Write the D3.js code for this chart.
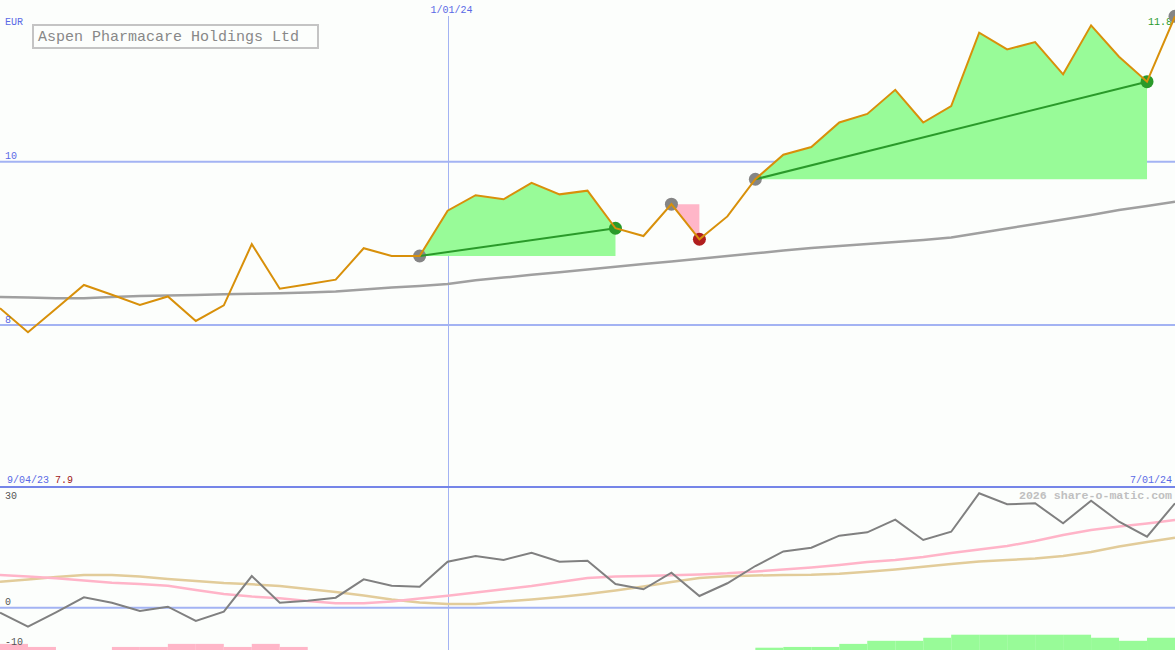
<!DOCTYPE html>
<html><head><meta charset="utf-8">
<script src="https://cdn.jsdelivr.net/npm/d3@7/dist/d3.min.js"></script>
<style>html,body{margin:0;padding:0;background:#fcfefc;overflow:hidden}svg{display:block}</style>
</head><body>
<script>
// ---- data ----
const dates = ["2023-09-11","2023-09-18","2023-09-25","2023-10-02","2023-10-09","2023-10-16","2023-10-23","2023-10-30","2023-11-06","2023-11-13","2023-11-20","2023-11-27","2023-12-04","2023-12-11","2023-12-18","2023-12-25","2024-01-01","2024-01-08","2024-01-15","2024-01-22","2024-01-29","2024-02-05","2024-02-12","2024-02-19","2024-02-26","2024-03-04","2024-03-11","2024-03-18","2024-03-25","2024-04-01","2024-04-08","2024-04-15","2024-04-22","2024-04-29","2024-05-06","2024-05-13","2024-05-20","2024-05-27","2024-06-03","2024-06-10","2024-06-17","2024-06-24","2024-07-01"];
const price = [8.205,7.911,8.20,8.49,8.37,8.245,8.35,8.05,8.24,8.99,8.445,8.50,8.555,8.94,8.845,8.845,9.40,9.59,9.54,9.74,9.60,9.645,9.185,9.09,9.48,9.05,9.33,9.785,10.085,10.18,10.48,10.585,10.88,10.48,10.68,11.58,11.375,11.465,11.07,11.67,11.285,10.98,11.78];
const longAvg = [8.343,8.337,8.327,8.327,8.343,8.356,8.362,8.368,8.376,8.383,8.389,8.398,8.411,8.435,8.460,8.478,8.503,8.548,8.581,8.614,8.646,8.680,8.713,8.746,8.779,8.812,8.845,8.878,8.911,8.943,8.968,8.992,9.017,9.041,9.072,9.127,9.182,9.237,9.292,9.347,9.409,9.458,9.510];
const momentum = [-1.26,-4.79,-1.16,2.62,1.26,-0.83,0.25,-3.35,-1.01,7.98,1.26,1.76,2.52,7.15,5.54,5.29,11.59,13.02,12.02,13.85,11.59,11.84,5.97,4.63,8.82,2.95,6.15,10.50,14.16,15.11,18.14,18.99,22.17,17.05,19.14,28.82,26.05,26.30,21.26,26.95,21.66,17.88,26.30];
const momFast = [8.24,7.86,7.41,6.85,6.30,5.97,5.54,4.46,3.45,2.82,2.37,1.69,1.11,1.11,1.56,2.32,3.02,3.83,4.63,5.47,6.47,7.48,7.86,7.98,8.16,8.36,8.66,9.12,9.62,10.13,10.76,11.51,12.02,12.77,13.78,14.66,15.54,16.80,18.31,19.57,20.45,21.21,22.09];
const momSlow = [6.55,7.10,7.73,8.24,8.24,7.86,7.23,6.73,6.22,5.89,5.47,4.71,3.95,3.07,2.07,1.31,0.93,0.93,1.56,2.07,2.70,3.45,4.33,5.34,6.47,7.48,7.91,8.11,8.24,8.31,8.54,9.04,9.62,10.33,11.01,11.64,12.02,12.39,13.02,14.03,15.42,16.55,17.63];
const hist = [0,-2,-1,0,0,-1,-1,-2,-2,-1,-2,-1,0,0,0,0,0,0,0,0,0,0,0,0,0,0,0,0,0.75,1,1,2,3,3,4,5,5,5,5,5,4,3,4];
const tradeEntries = [15, 24, 27, 42];
const tradeExits = [22, 25, 41, null];
const priceTicks = [10, 8];
const momTicks = [30, 0, -10];
const dateLabels = ["9/04/23", "1/01/24", "7/01/24"];
const dateLabelIdx = [null, 16, 42];
const title = "Aspen Pharmacare Holdings Ltd";
const currency = "EUR";
const watermark = "2026 share-o-matic.com";

// ---- drawing ----
const W = 1175, H = 650;
const FONT = "'Liberation Mono','DejaVu Sans Mono',monospace";
const BLUE_TXT = "#5a6ae6", GRID = "#a3b3f3";
const svg = d3.select("body").append("svg").attr("width", W).attr("height", H);
svg.append("rect").attr("width", W).attr("height", H).attr("fill", "#fcfefc");

const x = d3.scalePoint().domain(dates).range([0, W]);
const step = x.step();
const yTop = d3.scaleLinear().domain([8, 10]).range([325, 161.7]);
const yBot = d3.scaleLinear().domain([0, 30]).range([607.7, 488.6]);
const hScale = d3.scaleLinear().domain([0, 5]).range([H, 634.7]);

// grid lines
svg.selectAll("line.pg").data(priceTicks).join("line")
  .attr("x1", 0).attr("x2", W).attr("y1", d => yTop(d)).attr("y2", d => yTop(d))
  .attr("stroke", GRID).attr("stroke-width", 2);
svg.append("line").attr("x1", 0).attr("x2", W).attr("y1", yBot(0)).attr("y2", yBot(0))
  .attr("stroke", GRID).attr("stroke-width", 2);
const vx = Math.round(x(dates[dateLabelIdx[1]])) + 0.5;
svg.append("line").attr("x1", vx).attr("x2", vx).attr("y1", 16).attr("y2", H)
  .attr("stroke", GRID).attr("stroke-width", 1);

// histogram
svg.selectAll("rect.h").data(hist.map((v, i) => ({v, i})).filter(d => d.v !== 0 && d.i > 0)).join("rect")
  .attr("x", d => x(dates[d.i - 1])).attr("width", step)
  .attr("y", d => hScale(Math.abs(d.v))).attr("height", d => H - hScale(Math.abs(d.v)))
  .attr("fill", d => d.v < 0 ? "#ffb6c8" : "#98fb98");

// lower lines
const lineBot = d3.line().x((d, i) => x(dates[i])).y(d => yBot(d));
svg.append("path").attr("d", lineBot(momSlow)).attr("fill", "none").attr("stroke", "#e2cc9a").attr("stroke-width", 2.5);
svg.append("path").attr("d", lineBot(momFast)).attr("fill", "none").attr("stroke", "#ffb4c8").attr("stroke-width", 2.5);
svg.append("path").attr("d", lineBot(momentum)).attr("fill", "none").attr("stroke", "#808080").attr("stroke-width", 2);

// separator
svg.append("line").attr("x1", 0).attr("x2", W).attr("y1", 487).attr("y2", 487)
  .attr("stroke", "#7585e8").attr("stroke-width", 2);

// trade fills
tradeEntries.forEach((e, k) => {
  const ex = tradeExits[k];
  if (ex == null) return;
  const base = price[e];
  const idx = d3.range(e, ex + 1);
  const area = d3.area().x(i => x(dates[i])).y0(() => yTop(base)).y1(i => yTop(price[i]));
  svg.append("path").attr("d", area(idx))
    .attr("fill", price[ex] >= base ? "#98fb98" : "#ffb6c8");
});

// long average
const lineTop = d3.line().x((d, i) => x(dates[i])).y(d => yTop(d));
svg.append("path").attr("d", lineTop(longAvg)).attr("fill", "none").attr("stroke", "#a0a0a0").attr("stroke-width", 2.5);

// last value label (drawn under last circle)
const lastIdx = price.length - 1;
svg.append("text").text(price[lastIdx].toFixed(1)).attr("x", 1172).attr("y", 25)
  .attr("fill", "#2a9a2a").attr("font-family", FONT).attr("font-size", 10).attr("text-anchor", "end");

// trade circles and lines
tradeEntries.forEach((e, k) => {
  const ex = tradeExits[k];
  svg.append("circle").attr("cx", x(dates[e])).attr("cy", yTop(price[e])).attr("r", 6.5).attr("fill", "#858585");
  if (ex == null) return;
  const win = price[ex] >= price[e];
  svg.append("circle").attr("cx", x(dates[ex])).attr("cy", yTop(price[ex])).attr("r", 6.5)
    .attr("fill", win ? "#2a9a2a" : "#b01e1e");
  if (win) {
    svg.append("line").attr("x1", x(dates[e])).attr("y1", yTop(price[e]))
      .attr("x2", x(dates[ex])).attr("y2", yTop(price[ex]))
      .attr("stroke", "#2a9a2a").attr("stroke-width", 2);
  }
});

// price line
svg.append("path").attr("d", lineTop(price)).attr("fill", "none").attr("stroke", "#d8900a").attr("stroke-width", 2);

// labels
const txt = (t, xx, yy, col, size, anchor) => svg.append("text").text(t).attr("x", xx).attr("y", yy)
  .attr("fill", col).attr("font-family", FONT).attr("font-size", size).attr("text-anchor", anchor || "start");
txt(currency, 5, 25, BLUE_TXT, 10);
priceTicks.forEach(v => txt(String(v), 5, yTop(v) - 2.5, BLUE_TXT, 10));
momTicks.forEach(v => {
  const yy = v === 30 ? 499.3 : yBot(v) - 2.5;
  txt(String(v), 5, yy, "#555", 10);
});
txt(dateLabels[1], vx + 3, 13, BLUE_TXT, 10, "middle");
const lo = svg.append("text").attr("x", 7).attr("y", 482.7).attr("font-family", FONT).attr("font-size", 10);
lo.append("tspan").text(dateLabels[0] + " ").attr("fill", BLUE_TXT);
lo.append("tspan").text(d3.min(price).toFixed(1)).attr("fill", "#a01818");
txt(dateLabels[2], 1172, 482.7, BLUE_TXT, 10, "end");
txt(watermark, 1172, 499.3, "#c0c0c0", 11.6, "end").attr("font-weight", "bold");

// legend
svg.append("rect").attr("x", 33).attr("y", 25).attr("width", 285).attr("height", 23)
  .attr("fill", "#fcfefc").attr("stroke", "#c4c4c4").attr("stroke-width", 2);
txt(title, 38, 40.5, "#888", 15);
</script>
</body></html>
